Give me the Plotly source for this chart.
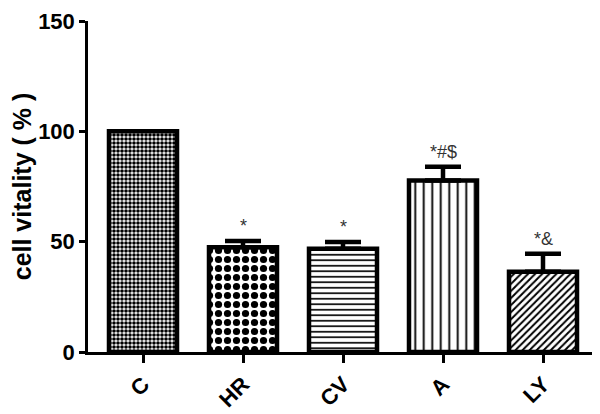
import plotly.graph_objects as go

# Daten
groups = ['C', 'HR', 'CV', 'A', 'LY']
vitality = [100, 47.5, 46.8, 77.7, 36.4]
sem = [0, 2.8, 3.0, 6.3, 8.1]
marks = ['', '*', '*', '*#$', '*&']
y_ticks = [0, 50, 100, 150]
patterns = ['.', '.', '-', '|', '/']
pattern_sizes = [4, 9, 5.5, 8.5, 5]
pattern_solidity = [0.65, 0.5, 0.3, 0.22, 0.4]

FONT = 'Arial, Liberation Sans, sans-serif'

fig = go.Figure()

xpos = list(range(len(groups)))
for i, g in enumerate(groups):
    fig.add_trace(go.Bar(
        x=[xpos[i]],
        y=[vitality[i]],
        width=0.68,
        marker=dict(
            color='white',
            line=dict(color='black', width=4.5),
            pattern=dict(shape=patterns[i], size=pattern_sizes[i],
                         solidity=pattern_solidity[i], fgopacity=1,
                         fgcolor='black', bgcolor='white', fillmode='overlay')
        ),
        error_y=dict(type='data', symmetric=False, array=[sem[i]],
                     arrayminus=[0], visible=sem[i] > 0,
                     color='black', thickness=4.5, width=18),
        showlegend=False
    ))

# Signifikanz-Zeichen
for i, m in enumerate(marks):
    if m:
        fig.add_annotation(x=xpos[i], y=vitality[i] + sem[i], text=m,
                           showarrow=False, yanchor='bottom', yshift=3,
                           font=dict(family=FONT, size=18, color='#333'))

# Ränder ausgeglichen für den 8px-Rand des Seiten-Body
fig.update_layout(
    width=600, height=414,
    margin=dict(l=80, r=13, t=13, b=70),
    plot_bgcolor='white', paper_bgcolor='white',
    font=dict(family=FONT, color='black', size=22),
    xaxis=dict(range=[-0.55, 4.52], tickvals=xpos,
               ticktext=[f'<b>{g}</b>' for g in groups],
               tickangle=-45, showgrid=False, zeroline=False, automargin=False,
               showline=True, linecolor='black', linewidth=2.5,
               ticks='outside', ticklen=8, tickwidth=2.5, tickcolor='black',
               tickfont=dict(size=22)),
    yaxis=dict(range=[0, 150], tickvals=y_ticks,
               ticktext=[f'<b>{t}</b>' for t in y_ticks],
               ticklabeloverflow='allow', automargin=False,
               showgrid=False, zeroline=False,
               showline=True, linecolor='black', linewidth=2.5,
               ticks='outside', ticklen=6, tickwidth=2.5, tickcolor='black',
               tickfont=dict(size=22),
               title=dict(text='<b>cell vitality ( % )</b>', standoff=6,
                          font=dict(size=25)))
)

fig.write_html("out.html")
